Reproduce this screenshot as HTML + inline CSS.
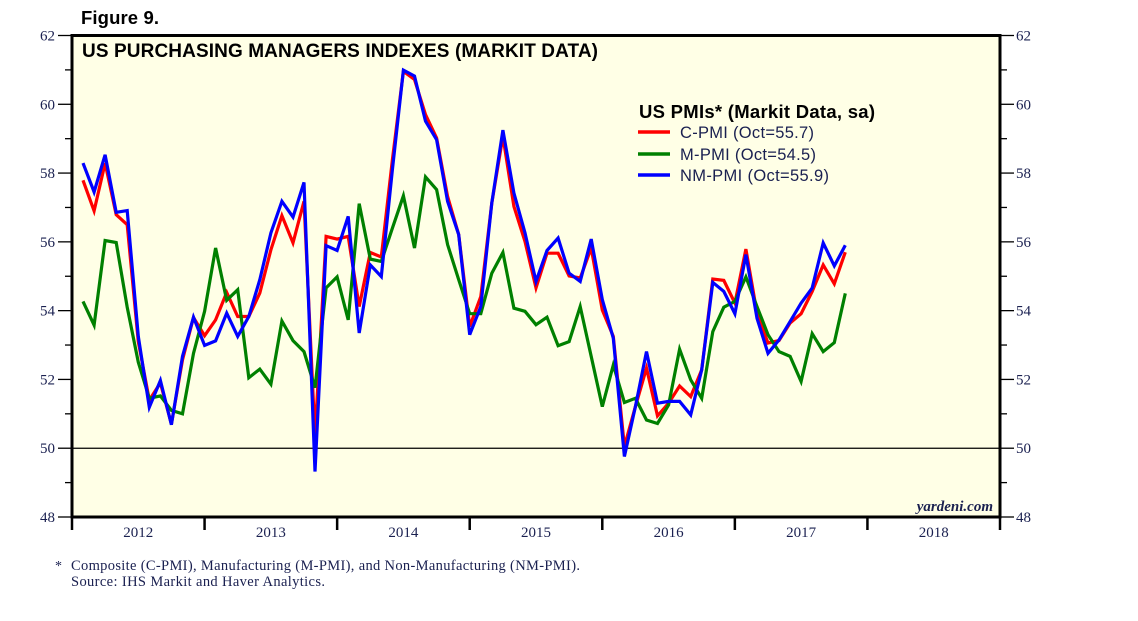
<!DOCTYPE html>
<html><head><meta charset="utf-8"><style>
body{margin:0;background:#fff;width:1138px;height:621px;overflow:hidden}
svg{display:block}
.ser{font-family:"Liberation Serif",serif;fill:#1a2050}
.san{font-family:"Liberation Sans",sans-serif}
</style></head><body>
<svg id="chart" width="1138" height="621">
<rect x="72" y="35.5" width="928" height="481.5" fill="#ffffe6"/>
<g id="grid"></g>
<g id="lines"></g>
<rect x="72" y="35.5" width="928" height="481.5" fill="none" stroke="#000" stroke-width="3"/>
<g id="axes"></g>
<text x="81" y="24" class="san" font-weight="bold" font-size="18.5" textLength="78">Figure 9.</text>
<text x="82" y="57" class="san" font-weight="bold" font-size="19" textLength="516">US PURCHASING MANAGERS INDEXES (MARKIT DATA)</text>
<g>
<text x="639" y="118" class="san" font-weight="bold" font-size="18.5" textLength="236">US PMIs* (Markit Data, sa)</text>
<line x1="638" y1="132" x2="670" y2="132" stroke="#f00" stroke-width="3.5"/>
<text x="680" y="138" class="san" font-size="16.5" textLength="134" fill="#1a2050">C-PMI (Oct=55.7)</text>
<line x1="638" y1="154" x2="670" y2="154" stroke="#008000" stroke-width="3.5"/>
<text x="680" y="160" class="san" font-size="16.5" textLength="136" fill="#1a2050">M-PMI (Oct=54.5)</text>
<line x1="638" y1="175" x2="670" y2="175" stroke="#00f" stroke-width="3.5"/>
<text x="680" y="181" class="san" font-size="16.5" textLength="149" fill="#1a2050">NM-PMI (Oct=55.9)</text>
</g>
<text x="993" y="511" class="ser" font-style="italic" font-weight="bold" font-size="15" text-anchor="end" fill="#1a2050">yardeni.com</text>
<text x="55" y="570" class="ser" font-size="14" fill="#c00">*</text>
<text x="71" y="570" class="ser" font-size="14.5" textLength="509">Composite (C-PMI), Manufacturing (M-PMI), and Non-Manufacturing (NM-PMI).</text>
<text x="71" y="586" class="ser" font-size="14.5" textLength="254">Source: IHS Markit and Haver Analytics.</text>
</svg>
<script>
const years=["2012","2013","2014","2015","2016","2017","2018"];
const yTicks=[48,50,52,54,56,58,60,62];
const cPmi=[57.79,56.9,58.29,56.79,56.5,53.1,51.4,51.9,50.7,52.57,53.8,53.27,53.73,54.53,53.83,53.83,54.51,55.77,56.76,55.97,57.18,50.34,56.16,56.08,56.16,54.12,55.69,55.56,58.39,60.96,60.72,59.7,59.02,57.32,56.21,53.54,54.41,57.13,59.07,57.03,56.01,54.66,55.67,55.67,55.01,54.95,55.82,54.02,53.25,50.05,51.21,52.33,50.94,51.31,51.81,51.5,52.28,54.92,54.88,54.22,55.79,53.93,53.06,53.13,53.64,53.91,54.56,55.33,54.78,55.7];
const mPmi=[54.27,53.58,56.04,55.98,54.1,52.5,51.45,51.52,51.1,51.0,52.76,53.98,55.82,54.3,54.61,52.05,52.3,51.86,53.7,53.13,52.81,51.76,54.66,54.98,53.73,57.11,55.5,55.43,56.4,57.34,55.82,57.89,57.52,55.92,54.9,53.91,53.91,55.09,55.69,54.07,53.98,53.59,53.81,52.98,53.1,54.12,52.67,51.21,52.42,51.33,51.45,50.82,50.72,51.26,52.88,51.99,51.45,53.39,54.1,54.27,54.98,54.12,53.3,52.81,52.67,51.94,53.33,52.81,53.07,54.5];
const nmPmi=[58.29,57.45,58.53,56.86,56.91,53.25,51.19,51.97,50.68,52.67,53.81,52.99,53.12,53.93,53.25,53.83,54.9,56.26,57.18,56.72,57.73,49.32,55.89,55.75,56.74,53.35,55.33,54.99,58.1,60.99,60.82,59.51,58.97,57.18,56.21,53.3,54.12,57.13,59.25,57.42,56.26,54.85,55.75,56.11,55.09,54.85,56.08,54.32,53.2,49.76,51.21,52.81,51.31,51.36,51.36,50.97,52.28,54.82,54.56,53.91,55.63,53.78,52.76,53.15,53.68,54.22,54.66,55.97,55.3,55.9];
const NS="http://www.w3.org/2000/svg";
const X0=72,X1=1000,Y0=517,Y1=35.5,YMIN=48,YMAX=62,NMON=84;
const xScale=i=>X0+(i+1)*(X1-X0)/NMON;
const yScale=v=>Y0-(v-YMIN)*(Y0-Y1)/(YMAX-YMIN);
function mk(tag,attrs,parent){const e=document.createElementNS(NS,tag);for(const k in attrs)e.setAttribute(k,attrs[k]);parent.appendChild(e);return e;}
const axes=document.getElementById('axes'),grid=document.getElementById('grid'),lines=document.getElementById('lines');
const ref=mk('line',{x1:X0,x2:X1,y1:yScale(50),y2:yScale(50),stroke:'#000','stroke-width':1.2},grid);


for(let v=YMIN;v<=YMAX;v++){
  const y=yScale(v),maj=v%2===0;
  mk('line',{x1:X0-(maj?14:7),x2:X0,y1:y,y2:y,stroke:'#000','stroke-width':1.3},axes);
  mk('line',{x1:X1,x2:X1+(maj?14:7),y1:y,y2:y,stroke:'#000','stroke-width':1.3},axes);
}
yTicks.forEach(v=>{
  const y=yScale(v)+5;
  const l=mk('text',{x:55,y:y,'text-anchor':'end','font-size':15,class:'ser'},axes);
  l.textContent=v;
  
  
  const r=mk('text',{x:1016,y:y,'font-size':15,class:'ser'},axes);
  r.textContent=v;
  
  
});
const yw=(X1-X0)/years.length;
for(let k=0;k<=years.length;k++){
  const x=X0+k*yw;
  mk('line',{x1:x,x2:x,y1:Y0,y2:Y0+13,stroke:'#000','stroke-width':2.5},axes);
}
years.forEach((yr,k)=>{
  const t=mk('text',{x:X0+(k+0.5)*yw,y:537,'text-anchor':'middle','font-size':15,class:'ser'},axes);
  t.textContent=yr;
  
  
});
function series(data,color,name){
  const p=mk('polyline',{points:data.map((v,i)=>xScale(i).toFixed(1)+','+yScale(v).toFixed(1)).join(' '),fill:'none',stroke:color,'stroke-width':3.2,'stroke-linejoin':'miter'},lines);
  
  
}
series(cPmi,'#f00','c-pmi-line');
series(mPmi,'#008000','m-pmi-line');
series(nmPmi,'#00f','nm-pmi-line');
</script>
</body></html>
